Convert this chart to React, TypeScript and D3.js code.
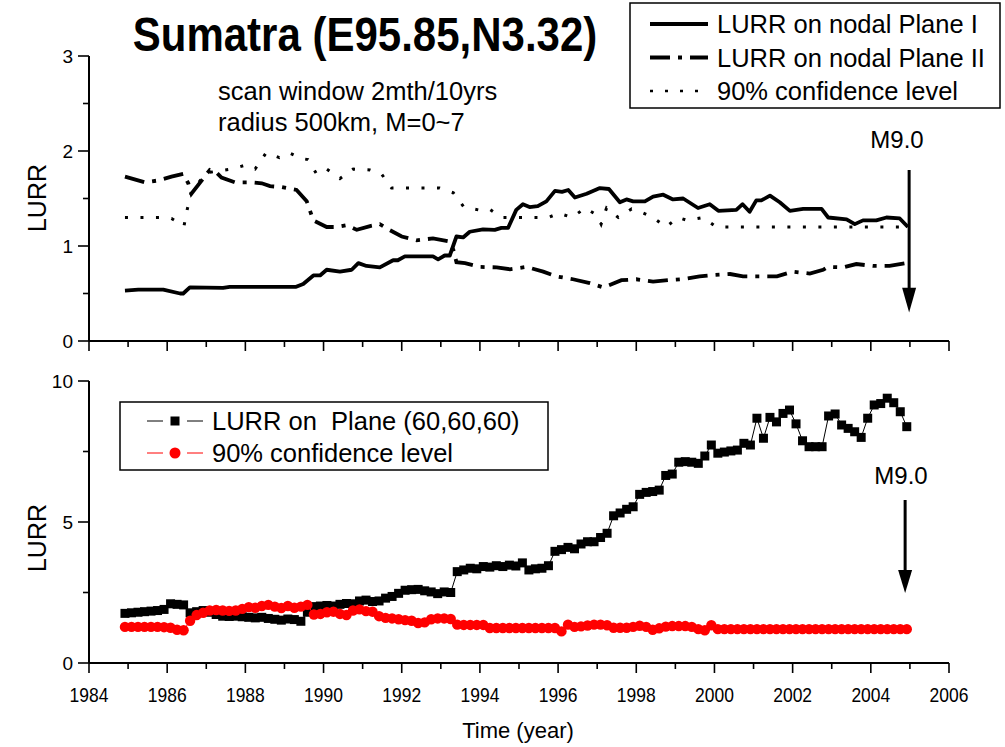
import React from "react";
import * as d3 from "d3";

// ---------------- DATA ----------------
const TITLE = "Sumatra (E95.85,N3.32)";
const SUBTITLE = ["scan window 2mth/10yrs", "radius 500km, M=0~7"];
const X_TICKS = [1984, 1985, 1986, 1987, 1988, 1989, 1990, 1991, 1992, 1993, 1994, 1995, 1996, 1997, 1998, 1999, 2000, 2001, 2002, 2003, 2004, 2005, 2006];
const X_LABELS = [1984, 1986, 1988, 1990, 1992, 1994, 1996, 1998, 2000, 2002, 2004, 2006];
const TOP_Y_TICKS = [0, 0.5, 1, 1.5, 2, 2.5, 3];
const TOP_Y_LABELS = [0, 1, 2, 3];
const BOT_Y_TICKS = [0, 2.5, 5, 7.5, 10];
const BOT_Y_LABELS = [0, 5, 10];
const EVENT_YEAR = 2004.98;

// Top panel: LURR on nodal plane I (solid)
const planeI: [number, number][] = [
  [1984.92, 0.53], [1985.26, 0.54], [1985.9, 0.54], [1986.33, 0.5], [1986.41, 0.5], [1986.58, 0.565],
  [1987.43, 0.56], [1987.6, 0.57], [1989.3, 0.57], [1989.48, 0.6], [1989.74, 0.69], [1989.91, 0.69],
  [1990.08, 0.75], [1990.42, 0.73], [1990.72, 0.75], [1990.89, 0.82], [1991.1, 0.79], [1991.44, 0.775],
  [1991.78, 0.85], [1991.9, 0.85], [1992.08, 0.89], [1992.46, 0.89], [1992.8, 0.89], [1992.93, 0.86],
  [1993.1, 0.9], [1993.23, 0.9], [1993.4, 1.1], [1993.57, 1.09], [1993.74, 1.15], [1994.08, 1.175],
  [1994.38, 1.17], [1994.55, 1.19], [1994.72, 1.19], [1994.93, 1.38], [1995.1, 1.44], [1995.27, 1.41],
  [1995.48, 1.42], [1995.7, 1.47], [1995.92, 1.58], [1996.1, 1.57], [1996.26, 1.59], [1996.43, 1.51],
  [1996.73, 1.55], [1997.07, 1.61], [1997.3, 1.6], [1997.58, 1.46], [1997.75, 1.49], [1997.92, 1.47],
  [1998.22, 1.47], [1998.43, 1.52], [1998.69, 1.54], [1998.94, 1.49], [1999.2, 1.5], [1999.58, 1.4],
  [1999.88, 1.44], [2000.1, 1.37], [2000.56, 1.38], [2000.72, 1.44], [2000.9, 1.36], [2001.07, 1.48],
  [2001.2, 1.48], [2001.42, 1.53], [2001.67, 1.46], [2001.93, 1.37], [2002.27, 1.39], [2002.74, 1.39],
  [2002.91, 1.3], [2003.38, 1.28], [2003.59, 1.23], [2003.8, 1.27], [2004.14, 1.27], [2004.4, 1.3],
  [2004.74, 1.29], [2004.95, 1.2],
];

// Top panel: LURR on nodal plane II (dash-dot)
const planeII: [number, number][] = [
  [1984.92, 1.73], [1985.43, 1.67], [1985.77, 1.69], [1986.11, 1.73], [1986.41, 1.76], [1986.54, 1.66],
  [1986.62, 1.55], [1986.92, 1.71], [1987.09, 1.8], [1987.27, 1.77], [1987.39, 1.72], [1987.73, 1.67],
  [1988.12, 1.67], [1988.42, 1.66], [1988.63, 1.63], [1988.93, 1.62], [1989.31, 1.59], [1989.57, 1.47],
  [1989.74, 1.27], [1990.08, 1.2], [1990.33, 1.2], [1990.59, 1.22], [1990.85, 1.17], [1991.19, 1.21],
  [1991.44, 1.23], [1991.66, 1.175], [1992.0, 1.1], [1992.38, 1.06], [1992.8, 1.08], [1993.19, 1.05],
  [1993.32, 0.96], [1993.4, 0.83], [1993.62, 0.82], [1994.0, 0.78], [1994.43, 0.775], [1994.77, 0.755],
  [1995.19, 0.78], [1995.62, 0.73], [1995.96, 0.68], [1996.38, 0.65], [1996.81, 0.61], [1997.15, 0.565],
  [1997.2, 0.57], [1997.62, 0.64], [1998.0, 0.65], [1998.43, 0.625], [1998.81, 0.64], [1999.16, 0.65],
  [1999.62, 0.68], [2000.0, 0.695], [2000.4, 0.705], [2000.73, 0.68], [2001.25, 0.68], [2001.6, 0.68],
  [2002.0, 0.73], [2002.44, 0.71], [2002.78, 0.75], [2002.9, 0.78], [2003.29, 0.775], [2003.63, 0.81],
  [2004.06, 0.79], [2004.48, 0.79], [2004.9, 0.82],
];

// Top panel: 90% confidence level (dotted)
const confTop: [number, number][] = [
  [1984.92, 1.3], [1985.8, 1.3], [1986.11, 1.29], [1986.43, 1.21], [1986.51, 1.38], [1986.62, 1.57],
  [1987.0, 1.77], [1987.65, 1.81], [1987.99, 1.85], [1988.25, 1.81], [1988.53, 1.98], [1988.87, 1.93],
  [1989.13, 1.98], [1989.44, 1.92], [1989.6, 1.91], [1989.82, 1.76], [1990.08, 1.81], [1990.42, 1.71],
  [1990.76, 1.81], [1991.19, 1.8], [1991.48, 1.76], [1991.74, 1.61], [1992.97, 1.61], [1993.32, 1.56],
  [1993.59, 1.41], [1993.96, 1.38], [1994.24, 1.39], [1994.55, 1.3], [1995.75, 1.3], [1996.02, 1.345],
  [1996.36, 1.3], [1996.69, 1.4], [1996.98, 1.33], [1997.1, 1.23], [1997.24, 1.4], [1997.54, 1.3],
  [1997.88, 1.39], [1998.16, 1.35], [1998.43, 1.3], [1998.76, 1.2], [1999.07, 1.3], [1999.3, 1.27],
  [1999.71, 1.3], [2000.05, 1.2], [2004.95, 1.2],
];

// Bottom panel: sampled every 2 months from 1984.92
const BOT_START = 1984.92;
const lurrPlane = [
  1.76, 1.78, 1.8, 1.82, 1.84, 1.86, 1.9, 2.1, 2.08, 2.06,
  1.78, 1.82, 1.86, 1.8, 1.72, 1.66, 1.65, 1.66, 1.64, 1.62,
  1.6, 1.62, 1.58, 1.55, 1.52, 1.56, 1.54, 1.48, 1.8, 2.0,
  2.02, 2.04, 2.02, 2.08, 2.11, 2.1, 2.2, 2.23, 2.18, 2.2,
  2.3, 2.36, 2.47, 2.58, 2.6, 2.61, 2.56, 2.52, 2.46, 2.52,
  2.5, 3.24, 3.3, 3.36, 3.34, 3.42, 3.4, 3.45, 3.42, 3.47,
  3.44, 3.55, 3.3, 3.34, 3.36, 3.45, 3.96, 4.02, 4.1, 4.05,
  4.22, 4.3, 4.3, 4.45, 4.6, 5.22, 5.32, 5.45, 5.54, 5.98,
  6.05, 6.08, 6.13, 6.65, 6.7, 7.12, 7.14, 7.12, 7.08, 7.34,
  7.73, 7.44, 7.48, 7.52, 7.55, 7.79, 7.73, 8.68, 7.97, 8.71,
  8.55, 8.85, 8.97, 8.48, 7.88, 7.67, 7.67, 7.67, 8.76, 8.83,
  8.44, 8.32, 8.2, 8.0, 8.68, 9.15, 9.2, 9.39, 9.23, 8.91,
  8.38,
];
const confBot = [
  1.28, 1.28, 1.28, 1.28, 1.28, 1.28, 1.27, 1.25, 1.18, 1.16,
  1.5, 1.7, 1.78, 1.86, 1.88, 1.86, 1.85, 1.86, 1.92, 1.98,
  1.96, 2.02, 2.06, 2.0, 1.95, 2.02, 1.96, 2.0, 2.06, 1.72,
  1.74, 1.8, 1.82, 1.74, 1.7, 1.86, 1.9, 1.84, 1.82, 1.66,
  1.6, 1.58, 1.55, 1.52, 1.5, 1.42, 1.44, 1.55, 1.58, 1.58,
  1.56, 1.36, 1.35, 1.35, 1.35, 1.35, 1.24, 1.24, 1.24, 1.24,
  1.24, 1.24, 1.24, 1.24, 1.24, 1.24, 1.24, 1.12, 1.36, 1.28,
  1.3, 1.33, 1.36, 1.36, 1.34, 1.25, 1.25, 1.25, 1.28, 1.32,
  1.28, 1.18, 1.23, 1.29, 1.31, 1.31, 1.31, 1.28, 1.2, 1.16,
  1.34, 1.2, 1.2, 1.2, 1.2, 1.2, 1.2, 1.2, 1.2, 1.2,
  1.2, 1.2, 1.2, 1.2, 1.2, 1.2, 1.2, 1.2, 1.2, 1.2,
  1.2, 1.2, 1.2, 1.2, 1.2, 1.2, 1.2, 1.2, 1.2, 1.2,
  1.2,
];

const TOP_LEGEND = ["LURR on nodal Plane I", "LURR on nodal Plane II", "90% confidence level"];
const BOT_LEGEND = ["LURR on  Plane (60,60,60)", "90% confidence level"];

// ---------------- CHART ----------------
const FONT = "'Liberation Sans', Arial, Helvetica, sans-serif";

export default function App() {
  const W = 1005, H = 747;
  const x = d3.scaleLinear().domain([1984, 2006]).range([89, 949]);
  const yT = d3.scaleLinear().domain([0, 3]).range([341, 56]);
  const yB = d3.scaleLinear().domain([0, 10]).range([663, 381]);

  const lineT = d3.line<[number, number]>().x((d) => x(d[0])).y((d) => yT(d[1]));
  const botT = lurrPlane.map((_, i) => BOT_START + i / 6);
  const lineB = d3.line<number>().x((_, i) => x(botT[i]));

  const xAxis = (y0: number, labels: boolean) => (
    <g>
      <line x1={x(1984)} x2={x(2006)} y1={y0} y2={y0} stroke="#000" strokeWidth={2} />
      {X_TICKS.map((t) => {
        const major = t % 2 === 0;
        return (
          <line key={t} x1={x(t)} x2={x(t)} y1={y0} y2={y0 + (major ? 10 : 6)} stroke="#000" strokeWidth={1.6} />
        );
      })}
      {labels &&
        X_LABELS.map((t) => (
          <text key={t} transform={`translate(${x(t)},${y0 + 39}) scale(0.92,1.1)`} textAnchor="middle" fontSize={19} fontFamily={FONT}>
            {t}
          </text>
        ))}
    </g>
  );

  const yAxis = (ys: d3.ScaleLinear<number, number>, ticks: number[], labels: number[]) => (
    <g>
      <line x1={x(1984)} x2={x(1984)} y1={ys.range()[0]} y2={ys.range()[1]} stroke="#000" strokeWidth={2} />
      {ticks.map((t) => {
        const major = labels.includes(t);
        return (
          <line key={t} x1={x(1984) - (major ? 11 : 6)} x2={x(1984)} y1={ys(t)} y2={ys(t)} stroke="#000" strokeWidth={1.6} />
        );
      })}
      {labels.map((t) => (
        <text key={t} x={73} y={ys(t) + 7} textAnchor="end" fontSize={19} fontFamily={FONT}>
          {t}
        </text>
      ))}
    </g>
  );

  const arrow = (xx: number, y1: number, yBase: number, yTip: number) => (
    <g>
      <line x1={xx} x2={xx} y1={y1} y2={yBase + 2} stroke="#000" strokeWidth={3} />
      <path d={`M${xx - 7},${yBase} L${xx + 7},${yBase} L${xx},${yTip} Z`} fill="#000" />
    </g>
  );

  return (
    <svg width={W} height={H} style={{ display: "block", position: "absolute", left: 0, top: 0 }} fontFamily={FONT}>
      <rect width={W} height={H} fill="#fff" />

      {/* Title & subtitle */}
      <text transform="translate(365,51) scale(1,1.15)" textAnchor="middle" fontSize={42} fontWeight="bold">
        {TITLE}
      </text>
      {SUBTITLE.map((s, i) => (
        <text key={i} x={218} y={100 + i * 31} fontSize={25.5}>
          {s}
        </text>
      ))}

      {/* Top panel */}
      {xAxis(341, false)}
      {yAxis(yT, TOP_Y_TICKS, TOP_Y_LABELS)}
      <text transform={`translate(46,${198}) rotate(-90)`} textAnchor="middle" fontSize={25}>
        LURR
      </text>
      <path d={lineT(confTop) || ""} fill="none" stroke="#000" strokeWidth={3} strokeDasharray="3 12.5" />
      <path d={lineT(planeII) || ""} fill="none" stroke="#000" strokeWidth={3.8} strokeDasharray="20 8 4 8" />
      <path d={lineT(planeI) || ""} fill="none" stroke="#000" strokeWidth={3.8} strokeLinejoin="round" />

      {/* Top legend */}
      <rect x={630} y={3} width={370} height={105} fill="#fff" stroke="#000" strokeWidth={1.5} />
      {TOP_LEGEND.map((s, i) => {
        const yy = 24 + i * 33.5;
        const dash = i === 0 ? undefined : i === 1 ? "20 8 4 8" : "3 12";
        return (
          <g key={i}>
            <line x1={650} x2={708} y1={yy} y2={yy} stroke="#000" strokeWidth={i === 2 ? 2.5 : 3.8} strokeDasharray={dash} />
            <text x={717} y={yy + 9} fontSize={25.5}>
              {s}
            </text>
          </g>
        );
      })}

      {/* Top annotation */}
      <text x={897} y={148} textAnchor="middle" fontSize={24}>
        M9.0
      </text>
      {arrow(x(EVENT_YEAR), yT(1.8), yT(0.56), yT(0.3))}

      {/* Bottom panel */}
      {xAxis(663, true)}
      {yAxis(yB, BOT_Y_TICKS, BOT_Y_LABELS)}
      <text transform={`translate(46,${538}) rotate(-90)`} textAnchor="middle" fontSize={25}>
        LURR
      </text>
      <path d={lineB.y((d) => yB(d))(lurrPlane) || ""} fill="none" stroke="#000" strokeWidth={1} />
      {lurrPlane.map((v, i) => (
        <rect key={i} x={x(botT[i]) - 4.5} y={yB(v) - 4.5} width={9} height={9} fill="#000" />
      ))}
      <path d={lineB.y((d) => yB(d))(confBot) || ""} fill="none" stroke="#f00" strokeWidth={1} />
      {confBot.map((v, i) => (
        <circle key={i} cx={x(botT[i])} cy={yB(v)} r={5.2} fill="#f00" />
      ))}

      {/* Bottom legend */}
      <rect x={120} y={402} width={428} height={68} fill="#fff" stroke="#000" strokeWidth={1.5} />
      <line x1={147} x2={163} y1={421} y2={421} stroke="#000" strokeWidth={1} />
      <line x1={187} x2={203} y1={421} y2={421} stroke="#000" strokeWidth={1} />
      <rect x={170.5} y={416.5} width={9} height={9} fill="#000" />
      <text x={212} y={430} fontSize={25.5} style={{ whiteSpace: "pre" }}>
        {BOT_LEGEND[0]}
      </text>
      <line x1={147} x2={163} y1={453} y2={453} stroke="#f00" strokeWidth={1} />
      <line x1={187} x2={203} y1={453} y2={453} stroke="#f00" strokeWidth={1} />
      <circle cx={175} cy={453} r={5.5} fill="#f00" />
      <text x={212} y={462} fontSize={25.5}>
        {BOT_LEGEND[1]}
      </text>

      {/* Bottom annotation */}
      <text x={901} y={484} textAnchor="middle" fontSize={24}>
        M9.0
      </text>
      {arrow(x(EVENT_YEAR) - 4, yB(5.78), yB(3.3), yB(2.48))}

      {/* X axis title */}
      <text x={518} y={738} textAnchor="middle" fontSize={22}>
        Time (year)
      </text>
    </svg>
  );
}
